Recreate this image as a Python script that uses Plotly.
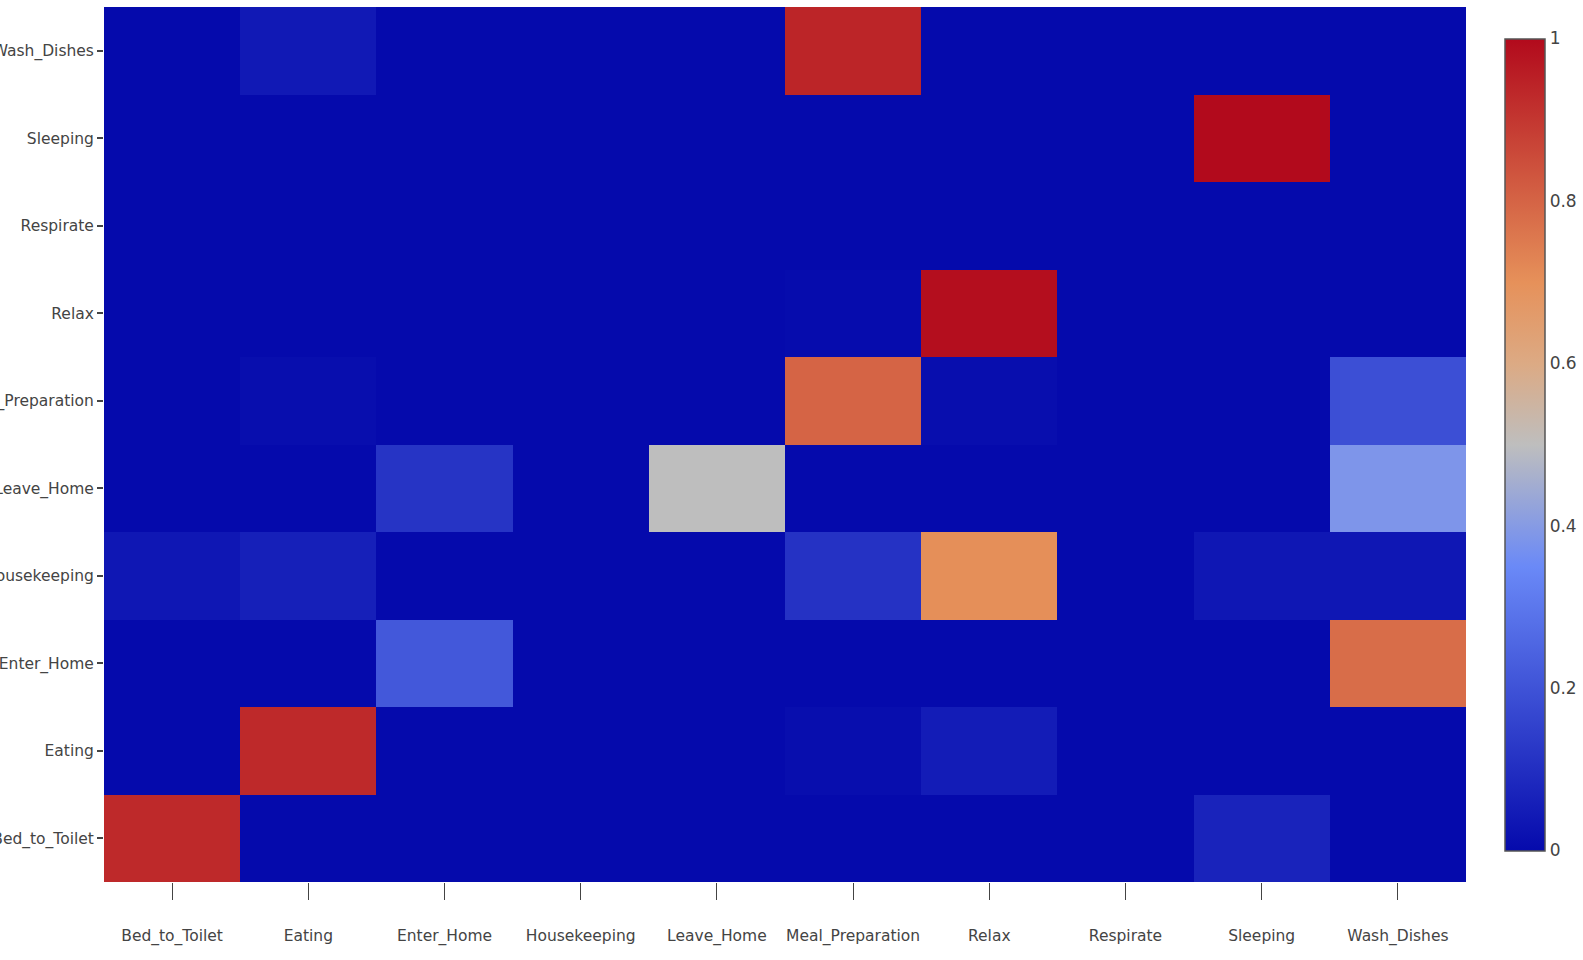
import plotly.graph_objects as go

labels = ["Bed_to_Toilet", "Eating", "Enter_Home", "Housekeeping", "Leave_Home",
          "Meal_Preparation", "Relax", "Respirate", "Sleeping", "Wash_Dishes"]

# rows = true activity (bottom to top), columns = predicted activity
row_bed_to_toilet = [0.93, 0.00, 0.00, 0.00, 0.00, 0.00, 0.00, 0.00, 0.07, 0.00]
row_eating        = [0.00, 0.93, 0.00, 0.00, 0.00, 0.01, 0.05, 0.00, 0.00, 0.00]
row_enter_home    = [0.00, 0.00, 0.215, 0.00, 0.00, 0.00, 0.00, 0.00, 0.00, 0.78]
row_housekeeping  = [0.035, 0.06, 0.00, 0.00, 0.00, 0.11, 0.705, 0.00, 0.035, 0.035]
row_leave_home    = [0.00, 0.00, 0.115, 0.00, 0.50, 0.00, 0.00, 0.00, 0.00, 0.385]
row_meal_prep     = [0.00, 0.01, 0.00, 0.00, 0.00, 0.80, 0.01, 0.00, 0.00, 0.19]
row_relax         = [0.00, 0.00, 0.00, 0.00, 0.00, 0.005, 0.99, 0.00, 0.00, 0.00]
row_respirate     = [0.00, 0.00, 0.00, 0.00, 0.00, 0.00, 0.00, 0.00, 0.00, 0.00]
row_sleeping      = [0.00, 0.00, 0.00, 0.00, 0.00, 0.00, 0.00, 0.00, 1.00, 0.00]
row_wash_dishes   = [0.00, 0.04, 0.00, 0.00, 0.00, 0.94, 0.00, 0.00, 0.00, 0.00]

z = [row_bed_to_toilet, row_eating, row_enter_home, row_housekeeping, row_leave_home,
     row_meal_prep, row_relax, row_respirate, row_sleeping, row_wash_dishes]

colorscale = [
    [0.0, "rgb(5,10,172)"],
    [0.35, "rgb(106,137,247)"],
    [0.5, "rgb(190,190,190)"],
    [0.6, "rgb(220,170,132)"],
    [0.7, "rgb(230,145,90)"],
    [1.0, "rgb(178,10,28)"],
]

font_family = "DejaVu Sans"
text_color = "#444"

fig = go.Figure(
    go.Heatmap(
        z=z,
        x=labels,
        y=labels,
        zmin=0,
        zmax=1,
        colorscale=colorscale,
        colorbar=dict(
            thickness=40,
            lenmode="pixels",
            len=832,
            y=0.5,
            yanchor="middle",
            x=1.02,
            xpad=12,
            outlinewidth=1.5,
            outlinecolor="#555",
            tickvals=[0, 0.2, 0.4, 0.6, 0.8, 1],
            ticktext=["0", "0.2", "0.4", "0.6", "0.8", "1"],
            tickfont=dict(family=font_family, size=17, color=text_color),
        ),
    )
)

fig.update_layout(
    width=1583,
    height=960,
    margin=dict(l=104, r=117, t=7, b=78, autoexpand=False),
    paper_bgcolor="white",
    plot_bgcolor="white",
    font=dict(family=font_family, size=15.5, color=text_color),
)

fig.update_xaxes(
    automargin=False,
    ticks="outside",
    ticklen=17,
    tickwidth=1,
    tickcolor="#444",
    ticklabelstandoff=22,
    showgrid=False,
    zeroline=False,
    tickfont=dict(family=font_family, size=15.5, color=text_color),
)
fig.update_yaxes(
    automargin=False,
    ticks="outside",
    ticklen=6,
    tickwidth=2,
    tickcolor="#444",
    showgrid=False,
    zeroline=False,
    tickfont=dict(family=font_family, size=15.5, color=text_color),
)

fig.write_html("out.html")
